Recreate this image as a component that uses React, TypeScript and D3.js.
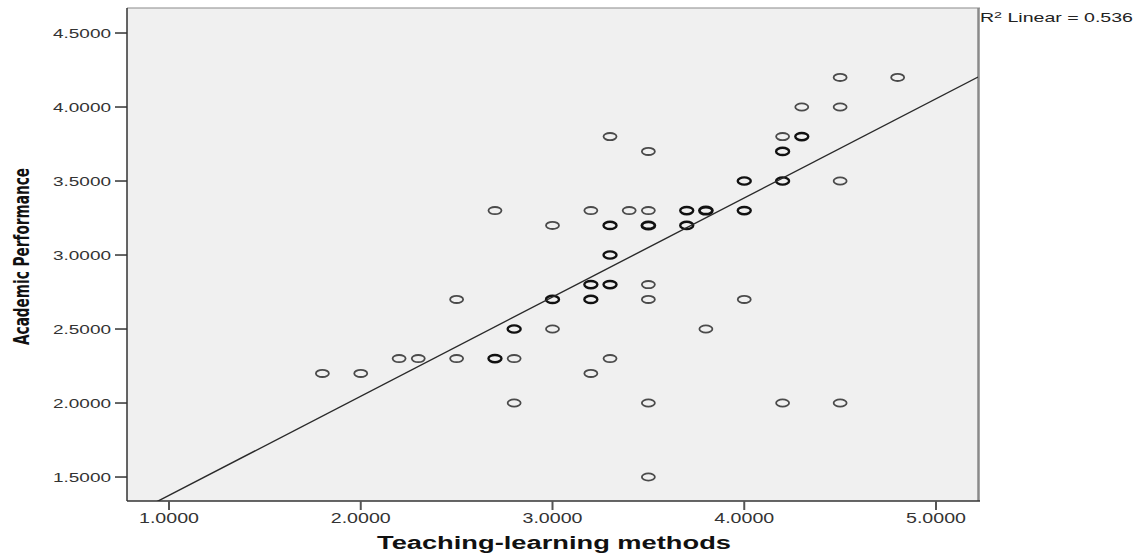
import * as d3 from "d3";

// Teaching-learning methods (x) vs Academic Performance (y)
const teachX = [
  1.8, 2.0, 2.2, 2.3, 2.5, 2.5, 2.7, 2.7, 2.8, 2.8, 2.8, 3.0, 3.0, 3.0,
  3.2, 3.2, 3.2, 3.2, 3.3, 3.3, 3.3, 3.3, 3.3, 3.4, 3.5, 3.5, 3.5, 3.5,
  3.5, 3.5, 3.5, 3.7, 3.7, 3.8, 3.8, 4.0, 4.0, 4.0, 4.2, 4.2, 4.2, 4.2,
  4.3, 4.3, 4.5, 4.5, 4.5, 4.5, 4.8,
];
const perfY = [
  2.2, 2.2, 2.3, 2.3, 2.7, 2.3, 3.3, 2.3, 2.3, 2.5, 2.0, 3.2, 2.7, 2.5,
  3.3, 2.8, 2.7, 2.2, 3.8, 3.2, 3.0, 2.8, 2.3, 3.3, 3.7, 3.3, 3.2, 2.8,
  2.7, 2.0, 1.5, 3.3, 3.2, 3.3, 2.5, 3.5, 3.3, 2.7, 3.8, 3.7, 3.5, 2.0,
  4.0, 3.8, 4.2, 4.0, 3.5, 2.0, 4.2,
];
// how many cases overlap at each marker (darker rings in the original)
const overlap = [
  1, 1, 1, 1, 1, 1, 1, 2, 1, 2, 1, 1, 2, 1,
  1, 2, 2, 1, 1, 2, 2, 2, 1, 1, 1, 1, 3, 1,
  1, 1, 1, 2, 2, 3, 1, 2, 2, 1, 1, 2, 2, 1,
  1, 2, 1, 1, 1, 1, 1,
];

const xTicks = [1, 2, 3, 4, 5];
const yTicks = [1.5, 2.0, 2.5, 3.0, 3.5, 4.0, 4.5];

// fit line
const fitIntercept = 0.706;
const fitSlope = 0.67;
const r2 = 0.536;

const W = 1142;
const H = 560;
const plot = { left: 127, right: 978, top: 8, bottom: 501 };

const fmt = d3.format(".4f");
const font = "'Liberation Sans', Arial, sans-serif";

export default function App() {
  const x = d3.scaleLinear().domain([0.781, 5.219]).range([plot.left, plot.right]);
  const y = d3.scaleLinear().domain([1.338, 4.669]).range([plot.bottom, plot.top]);

  const [x0, x1] = x.domain();
  const fitLine = d3.line<number>()
    .x(v => x(v))
    .y(v => y(fitIntercept + fitSlope * v))([x0, x1]);

  return (
    <svg
      width={W}
      height={H}
      style={{ position: "absolute", left: 0, top: 0, background: "#fff" }}
    >
      <defs>
        <clipPath id="plotClip">
          <rect x={plot.left} y={plot.top} width={plot.right - plot.left} height={plot.bottom - plot.top} />
        </clipPath>
      </defs>

      <rect
        x={plot.left}
        y={plot.top}
        width={plot.right - plot.left}
        height={plot.bottom - plot.top}
        fill="#f0f0f0"
      />

      {/* frame: grey top/right, dark axes left/bottom */}
      <line x1={plot.left} x2={plot.right + 2} y1={plot.top} y2={plot.top} stroke="#8a8a8a" strokeWidth={1.2} />
      <line x1={plot.right + 0.5} x2={plot.right + 0.5} y1={plot.top} y2={plot.bottom} stroke="#8a8a8a" strokeWidth={2.5} />
      <line x1={plot.left} x2={plot.left} y1={plot.top} y2={plot.bottom} stroke="#333" strokeWidth={1.5} />
      <line x1={plot.left} x2={plot.right + 2} y1={plot.bottom} y2={plot.bottom} stroke="#333" strokeWidth={1.5} />

      {/* y axis */}
      {yTicks.map(t => (
        <g key={`y${t}`}>
          <line x1={plot.left - 12} x2={plot.left} y1={y(t)} y2={y(t)} stroke="#333" strokeWidth={1.5} />
          <text
            x={111}
            y={y(t) + 4.5}
            textAnchor="end"
            fontFamily={font}
            fontSize={12.5}
            fill="#333"
            textLength={58}
            lengthAdjust="spacingAndGlyphs"
          >
            {fmt(t)}
          </text>
        </g>
      ))}

      {/* x axis */}
      {xTicks.map(t => (
        <g key={`x${t}`}>
          <line x1={x(t)} x2={x(t)} y1={plot.bottom} y2={plot.bottom + 9} stroke="#555" strokeWidth={2} />
          <text
            x={x(t)}
            y={522.5}
            textAnchor="middle"
            fontFamily={font}
            fontSize={14}
            fill="#333"
            textLength={60}
            lengthAdjust="spacingAndGlyphs"
          >
            {fmt(t)}
          </text>
        </g>
      ))}

      {/* points */}
      <g>
        {teachX.map((v, i) => (
          <ellipse
            key={i}
            cx={x(v)}
            cy={y(perfY[i])}
            rx={6.5}
            ry={3.6}
            fill="none"
            stroke={overlap[i] > 1 ? "#111" : "#4a4a4a"}
            strokeWidth={overlap[i] > 2 ? 2.8 : overlap[i] > 1 ? 2.4 : 1.8}
          />
        ))}
      </g>

      <path d={fitLine ?? ""} fill="none" stroke="#2a2a2a" strokeWidth={1.4} clipPath="url(#plotClip)" />

      <text
        x={980}
        y={22}
        fontFamily={font}
        fontSize={13}
        fill="#222"
        textLength={153}
        lengthAdjust="spacingAndGlyphs"
      >
        R<tspan fontSize={9.5} dy={-4.5}>2</tspan>
        <tspan dy={4.5}> Linear = {r2.toFixed(3)}</tspan>
      </text>

      <text
        x={377}
        y={549}
        fontFamily={font}
        fontSize={18}
        fontWeight="bold"
        fill="#111"
        textLength={354}
        lengthAdjust="spacingAndGlyphs"
      >
        Teaching-learning methods
      </text>

      <text
        transform={`translate(29,${(168 + 345) / 2}) rotate(-90)`}
        textAnchor="middle"
        fontFamily="'Liberation Sans Narrow', 'DejaVu Sans Condensed', Arial, sans-serif"
        fontSize={22}
        fontWeight="bold"
        fill="#111"
        textLength={177}
        lengthAdjust="spacingAndGlyphs"
      >
        Academic Performance
      </text>
    </svg>
  );
}
